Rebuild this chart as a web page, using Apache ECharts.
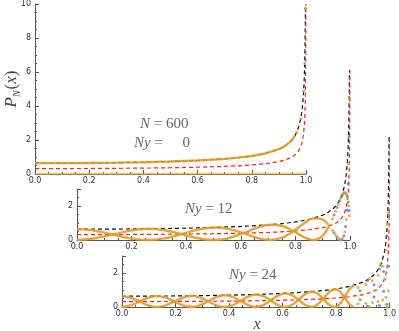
<!DOCTYPE html>
<html>
<head>
<meta charset="utf-8">
<script src="https://cdn.jsdelivr.net/npm/echarts@6/dist/echarts.min.js"></script>
<style>
  html, body { margin: 0; padding: 0; background: #fff; }
  #echartsMain { width: 399px; height: 331px; }
</style>
</head>
<body>
<div id="echartsMain"></div>
<script>
// envelope (black dashed) and mean (red dashed)
var envX = [0, 0.1, 0.2, 0.3, 0.4, 0.5, 0.6, 0.7, 0.75, 0.8, 0.85, 0.9, 0.92, 0.94, 0.95, 0.96, 0.97, 0.98, 0.985, 0.99, 0.993, 0.995, 0.996, 0.997, 0.998];
var envY = [0.637, 0.640, 0.650, 0.667, 0.695, 0.735, 0.796, 0.891, 0.963, 1.061, 1.208, 1.461, 1.624, 1.866, 2.039, 2.274, 2.619, 3.199, 3.689, 4.513, 5.390, 6.374, 7.125, 8.225, 10.0];
var meanX = [0, 0.1, 0.2, 0.3, 0.4, 0.5, 0.6, 0.7, 0.75, 0.8, 0.85, 0.9, 0.92, 0.94, 0.95, 0.96, 0.97, 0.98, 0.985, 0.99, 0.993, 0.995, 0.996, 0.997, 0.998, 0.999, 0.9993, 0.9995];
var meanY = [0.318, 0.320, 0.325, 0.334, 0.347, 0.368, 0.398, 0.446, 0.481, 0.531, 0.604, 0.731, 0.812, 0.933, 1.019, 1.137, 1.310, 1.600, 1.845, 2.257, 2.695, 3.187, 3.562, 4.112, 5.035, 7.12, 8.51, 10.0];

// Ny = 0 : solid part and the sparse points near x = 1
var ny0X = [0, 0.1, 0.2, 0.3, 0.4, 0.5, 0.6, 0.7, 0.75, 0.8, 0.85, 0.9, 0.92, 0.94, 0.95, 0.96];
var ny0Y = [0.637, 0.640, 0.650, 0.667, 0.695, 0.735, 0.796, 0.891, 0.963, 1.061, 1.208, 1.461, 1.624, 1.866, 2.039, 2.274];
var ny0Dots = [[0.9659, 2.46], [0.9808, 3.26], [0.9914, 4.88], [0.9952, 6.50], [0.9979, 9.73]];

// Ny = 12
var ny12X = [0, 0.0654, 0.1305, 0.1951, 0.2588, 0.3214, 0.3827, 0.4423, 0.5, 0.5556, 0.6088, 0.6593, 0.7071, 0.7518, 0.7934, 0.8315, 0.8660, 0.8969, 0.9239];
var ny12A = [0.637, 0.545, 0.321, 0.095, 0, 0.098, 0.345, 0.606, 0.735, 0.654, 0.401, 0.124, 0, 0.141, 0.523, 0.978, 1.273, 1.229, 0.832];
var ny12B = [0, 0.093, 0.321, 0.554, 0.659, 0.574, 0.345, 0.104, 0, 0.112, 0.401, 0.723, 0.900, 0.824, 0.523, 0.168, 0, 0.211, 0.832];
var ny12DotsOrange = [
  [0.9359, 0.558], [0.9469, 0.290], [0.9569, 0.084], [0.9659, 0], [0.9739, 0.107], [0.9808, 0.478], [0.9867, 1.206], [0.9914, 2.439], [0.9952, 4.490], [0.9979, 8.309],
  [0.9359, 1.249], [0.9469, 1.691], [0.9569, 2.110], [0.9659, 2.460], [0.9739, 2.697], [0.9808, 2.786], [0.9867, 2.702], [0.9952, 2.005], [0.9979, 1.425]
];
var ny12DotsBlue = [
  [0.9415, 0.420], [0.9521, 0.175], [0.9616, 0.022], [0.9700, 0.025], [0.9775, 0.254], [0.9838, 0.790], [0.9892, 1.746], [0.9935, 3.328], [0.9967, 6.059],
  [0.9415, 1.470], [0.9521, 1.906], [0.9616, 2.296], [0.9700, 2.595], [0.9775, 2.761], [0.9838, 2.766], [0.9892, 2.592], [0.9935, 2.242], [0.9967, 1.731]
];

// Ny = 24
var ny24X = [0, 0.0327, 0.0654, 0.0980, 0.1305, 0.1629, 0.1951, 0.2271, 0.2588, 0.2903, 0.3214, 0.3523, 0.3827, 0.4127, 0.4423, 0.4714, 0.5, 0.5281, 0.5556, 0.5825, 0.6088, 0.6344, 0.6593, 0.6836, 0.7071, 0.7299, 0.7518, 0.7730, 0.7934, 0.8129, 0.8315, 0.8492, 0.8660];
var ny24A = [0.637, 0.544, 0.319, 0.094, 0, 0.095, 0.325, 0.558, 0.659, 0.568, 0.336, 0.100, 0, 0.102, 0.355, 0.616, 0.735, 0.640, 0.383, 0.115, 0, 0.121, 0.423, 0.745, 0.900, 0.795, 0.483, 0.147, 0, 0.160, 0.573, 1.029, 1.273];
var ny24B = [0, 0.093, 0.319, 0.546, 0.642, 0.551, 0.325, 0.096, 0, 0.097, 0.336, 0.581, 0.689, 0.597, 0.355, 0.106, 0, 0.110, 0.383, 0.669, 0.802, 0.703, 0.423, 0.128, 0, 0.136, 0.483, 0.857, 1.046, 0.933, 0.573, 0.177, 0];
var ny24DotsOrange = [
  [0.8819, 1.153], [0.8969, 0.720], [0.9109, 0.226], [0.9239, 0], [0.9359, 0.265], [0.9469, 0.990], [0.9569, 1.872], [0.9659, 2.460], [0.9739, 2.393], [0.9808, 1.632], [0.9867, 0.572], [0.9914, 0], [0.9952, 0.951], [0.9979, 4.867],
  [0.8819, 0.198], [0.9109, 1.317], [0.9239, 1.664], [0.9359, 1.543], [0.9569, 0.321], [0.9739, 0.411], [0.9867, 3.336], [0.9914, 4.877], [0.9952, 5.544]
];
var ny24DotsBlue = [
  [0.8895, 0.963], [0.9175, 0.061], [0.9415, 0.583], [0.9616, 2.230], [0.9775, 2.084], [0.9892, 0.165], [0.9967, 2.405],
  [0.8895, 0.430], [0.9175, 1.539], [0.9415, 1.306], [0.9616, 0.088], [0.9775, 0.931], [0.9892, 4.173], [0.9967, 5.385]
];

var xTicks = [0, 0.2, 0.4, 0.6, 0.8, 1.0];

var ORANGE = '#E19C24';
var BLUE = '#5E81B5';
var RED = '#FF2020';
var AXIS = '#555';
var dash = [4, 3];

function pairs(xs, ys) {
  return xs.map(function (x, i) { return [x, ys[i]]; });
}

function makeX(gi) {
  return {
    gridIndex: gi, type: 'value', min: 0, max: 1, interval: 0.2,
    axisLine: { lineStyle: { color: AXIS, width: 1 } },
    axisTick: { show: true, inside: true, length: 4, lineStyle: { color: AXIS } },
    minorTick: { show: true, splitNumber: 4, length: 2, lineStyle: { color: AXIS } },
    axisLabel: { fontSize: 8, margin: 3, color: '#333', fontFamily: 'DejaVu Sans',
      formatter: function (v) { return v.toFixed(1); } },
    splitLine: { show: false }
  };
}

function makeY(gi, max) {
  return {
    gridIndex: gi, type: 'value', min: 0, max: max, interval: 2,
    axisLine: { show: true, lineStyle: { color: AXIS, width: 1 } },
    axisTick: { show: true, inside: true, length: 4, lineStyle: { color: AXIS } },
    minorTick: { show: true, splitNumber: 4, length: 2, lineStyle: { color: AXIS } },
    axisLabel: { fontSize: 8, margin: 4, color: '#333', fontFamily: 'DejaVu Sans', showMaxLabel: max === 10 },
    splitLine: { show: false }
  };
}

function dashed(gi, data, color) {
  return { type: 'line', xAxisIndex: gi, yAxisIndex: gi, data: data, showSymbol: false, clip: gi === 0,
    lineStyle: { color: color, width: 1.2, type: dash }, z: 3 };
}
function solid(gi, data, opacity) {
  return { type: 'line', xAxisIndex: gi, yAxisIndex: gi, data: data, showSymbol: false, clip: gi === 0,
    smooth: gi === 0 ? false : 0.35,
    lineStyle: { color: ORANGE, width: 2.4, opacity: opacity || 0.9 }, z: 4 };
}
function dots(gi, data, color) {
  return { type: 'scatter', xAxisIndex: gi, yAxisIndex: gi, data: data, clip: false,
    symbolSize: 3, itemStyle: { color: color }, z: 5 };
}

var myChart = echarts.init(document.getElementById('echartsMain'));

var serif = '"Liberation Serif", "DejaVu Serif", serif';
var richI = { i: { fontStyle: 'italic', fontSize: 15, fontFamily: serif, fill: '#666' } };

var option = {
  animation: false,
  grid: [
    { left: 35, top: 4, width: 271, height: 170 },
    { left: 77, top: 189, width: 273, height: 51 },
    { left: 122, top: 256, width: 271, height: 51 }
  ],
  xAxis: [makeX(0), makeX(1), makeX(2)],
  yAxis: [makeY(0, 10), makeY(1, 3), makeY(2, 3)],
  series: [
    // Ny = 0
    dashed(0, pairs(envX, envY), '#111'),
    dashed(0, pairs(meanX, meanY), RED),
    solid(0, pairs(ny0X, ny0Y)),
    solid(0, [[0, 0], [1, 0]], 0.6),
    dots(0, ny0Dots, ORANGE),
    // Ny = 12
    dashed(1, pairs(envX, envY), '#111'),
    dashed(1, pairs(meanX, meanY), RED),
    solid(1, pairs(ny12X, ny12A)),
    solid(1, pairs(ny12X, ny12B)),
    dots(1, ny12DotsBlue, BLUE),
    dots(1, ny12DotsOrange, ORANGE),
    // Ny = 24
    dashed(2, pairs(envX, envY), '#111'),
    dashed(2, pairs(meanX, meanY), RED),
    solid(2, pairs(ny24X, ny24A)),
    solid(2, pairs(ny24X, ny24B)),
    dots(2, ny24DotsBlue, BLUE),
    dots(2, ny24DotsOrange, ORANGE)
  ],
  graphic: [
    { type: 'text', x: 140, y: 124, style: { text: '{i|N} = 600', fontSize: 15, fontFamily: serif, fill: '#666', align: 'left', verticalAlign: 'middle', rich: richI } },
    { type: 'text', x: 134, y: 143, style: { text: '{i|Ny} =', fontSize: 15, fontFamily: serif, fill: '#666', align: 'left', verticalAlign: 'middle', rich: richI } },
    { type: 'text', x: 190, y: 143, style: { text: '0', fontSize: 15, fontFamily: serif, fill: '#666', align: 'right', verticalAlign: 'middle' } },
    { type: 'text', x: 185, y: 209, style: { text: '{i|Ny} = 12', fontSize: 15, fontFamily: serif, fill: '#666', align: 'left', verticalAlign: 'middle', rich: richI } },
    { type: 'text', x: 229, y: 275, style: { text: '{i|Ny} = 24', fontSize: 15, fontFamily: serif, fill: '#666', align: 'left', verticalAlign: 'middle', rich: richI } },
    { type: 'text', x: 257, y: 325, style: { text: 'x', font: 'italic 16px ' + serif, fill: '#444', align: 'center', verticalAlign: 'middle' } },
    { type: 'text', x: 12, y: 89, rotation: Math.PI / 2,
      style: { text: '{p|P}{s|N}{n|(}{p|x}{n|)}', fontSize: 17, fontFamily: serif, fill: '#444', align: 'center', verticalAlign: 'middle',
        rich: {
          p: { fontStyle: 'italic', fontSize: 17, fontFamily: serif, fill: '#444', lineHeight: 20 },
          s: { fontStyle: 'italic', fontSize: 10, fontFamily: serif, fill: '#444', verticalAlign: 'bottom', lineHeight: 20, padding: [6, 1, 0, 0] },
          n: { fontSize: 17, fontFamily: serif, fill: '#444', lineHeight: 20 }
        } } }
  ]
};

myChart.setOption(option);
</script>
</body>
</html>
